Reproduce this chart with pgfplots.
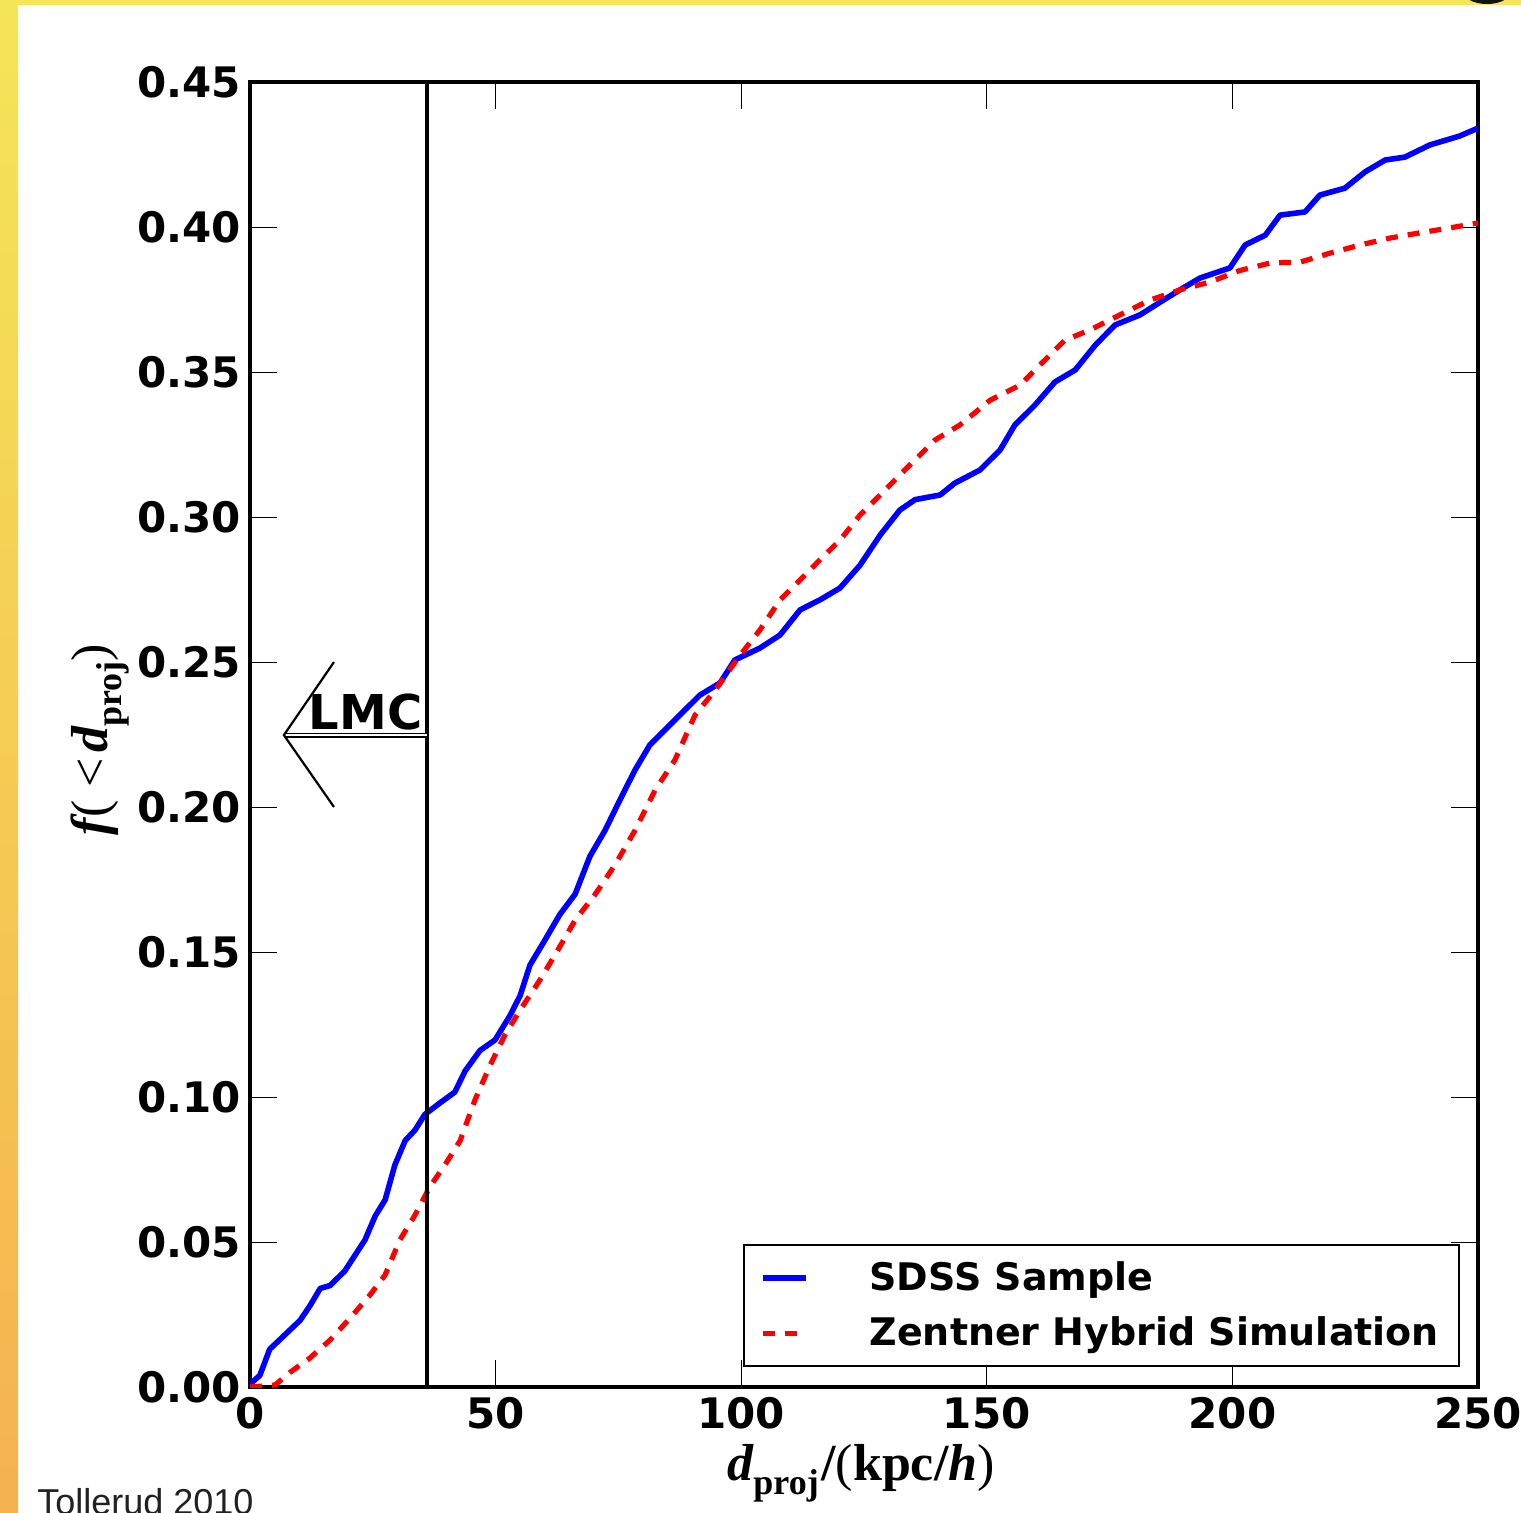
\documentclass[border=0pt]{standalone}
\usepackage{pgfplots}
\pgfplotsset{compat=1.18}
\usepackage{fontspec}
\setmainfont{DejaVu Sans}
\newfontfamily\serifbf{Liberation Serif}
\newfontfamily\arialf{Liberation Sans}
\definecolor{slideyellow}{RGB}{245,229,88}
\definecolor{slideorange}{RGB}{245,178,80}

\pgfplotstableread{
x y
0 0.001
2 0.004
4 0.013
7.1 0.018
10.2 0.023
12.2 0.028
14.3 0.034
16.3 0.035
19.3 0.040
21.4 0.0455
23.4 0.0507
25.5 0.059
27.5 0.0645
29.5 0.0766
31.6 0.085
33.6 0.0886
35.6 0.094
38.7 0.098
41.7 0.1017
43.8 0.109
46.8 0.116
49.9 0.1197
52.9 0.128
55 0.135
57 0.1455
60 0.154
63.1 0.163
66.2 0.170
69.2 0.183
72.3 0.192
75.3 0.2024
78.4 0.2128
81.4 0.2214
84.5 0.2266
87.5 0.2317
91.6 0.2386
95.7 0.2428
98.7 0.2507
103.8 0.2548
107.9 0.2593
112 0.268
116 0.2714
120.1 0.2755
124.2 0.2834
128.3 0.2938
132.3 0.3024
135.4 0.306
140.5 0.3076
143.5 0.3117
148.6 0.3162
152.7 0.3231
155.7 0.3317
159.8 0.3386
163.9 0.3466
168 0.3507
172.1 0.3593
176.1 0.3662
181.2 0.3697
185.3 0.3741
189.3 0.3783
193.4 0.3824
199.5 0.3859
202.6 0.3938
206.7 0.3972
209.7 0.4041
214.8 0.4052
217.8 0.4110
222.9 0.4134
227 0.419
231.1 0.4231
235.1 0.4241
240.2 0.4283
246.3 0.4314
250 0.4341
}\sdss

\pgfplotstableread{
x y
0 0
5.1 0.0007
8.1 0.005
12.2 0.010
16.3 0.0162
20.4 0.0238
24.4 0.0317
27.5 0.0386
30.5 0.0507
33.6 0.0593
36.6 0.069
39.7 0.0766
42.8 0.085
45.8 0.099
48.9 0.111
51.9 0.1214
55 0.130
59 0.1403
62.1 0.149
66.2 0.161
70.2 0.1697
74.3 0.180
78.4 0.192
82.5 0.2059
86.5 0.2162
90.6 0.2317
94.7 0.2403
99.8 0.2524
103.8 0.261
107.9 0.2714
112 0.2783
116 0.2852
120.1 0.292
124.2 0.3007
128.3 0.3076
133.3 0.3162
139.5 0.3266
144.5 0.3317
150.7 0.3403
156.8 0.3455
160.8 0.3524
165.9 0.361
171 0.3645
177.1 0.3697
183.2 0.3748
189.3 0.3783
195.4 0.381
201.5 0.385
207.7 0.3876
213.8 0.3879
219.9 0.391
226 0.3938
232.1 0.3962
238.2 0.398
244.3 0.3997
250 0.4014
}\zentner

\begin{document}
\begin{tikzpicture}
% slide background
\path[use as bounding box, fill=white] (0,0) rectangle (760.5pt,-756pt);
\fill[slideyellow] (0,0) rectangle (760.5pt,-2.5pt);
\shade[top color=slideyellow, bottom color=slideorange] (0,0) rectangle (9pt,-756pt);
\fill[black!92] (743.5pt,5pt) ellipse (12.5pt and 7pt);
\node[anchor=base west, inner sep=0pt, font=\arialf\fontsize{18}{18}\selectfont, text=black!87]
  at (18.5pt,-757pt) {Tollerud 2010};

\begin{axis}[
    at={(125pt,-693.5pt)}, anchor=south west,
    width=614pt, height=652.5pt, scale only axis,
    xmin=0, xmax=250, ymin=0, ymax=0.45,
    xtick={0,50,100,150,200,250},
    ytick={0,0.05,0.10,0.15,0.20,0.25,0.30,0.35,0.40,0.45},
    tick align=inside,
    major tick length=13.5pt,
    tick style={black, line width=0.5pt},
    axis line style={line width=2.3pt},
    /pgf/number format/assume math mode=true,
    ticklabel style={font=\fontsize{21}{21}\selectfont\bfseries},
    yticklabel style={/pgf/number format/.cd, fixed, fixed zerofill, precision=2,
        /tikz/.cd, inner sep=0pt, xshift=-4.3pt},
    xticklabel style={inner sep=0pt, yshift=-5pt},
    xlabel={{\itshape d}\raisebox{-0.28em}{\fontsize{18}{18}\selectfont proj}\hspace{0.05em}/{\mdseries(}kpc/{\itshape h}{\mdseries)}},
    ylabel={{\itshape f}{\mdseries(\hspace{0.25em}<}\hspace{0.1em}{\itshape d}\raisebox{-0.28em}{\fontsize{18}{18}\selectfont proj}{\mdseries)}},
    xlabel style={at={(axis description cs:0.4976,-0.0713)}, anchor=base, inner sep=0pt,
        font=\serifbf\bfseries\fontsize{26}{26}\selectfont},
    ylabel style={at={(axis description cs:-0.1164,0.496)}, anchor=base, inner sep=0pt,
        font=\serifbf\bfseries\fontsize{26}{26}\selectfont},
    legend style={at={(rel axis cs:1,0)}, anchor=south east, xshift=-9pt, yshift=10pt,
        draw=black, line width=1pt, font=\fontsize{19}{19}\selectfont\bfseries,
        inner xsep=8pt, inner ysep=6.7pt, row sep=8pt,
        cells={text height=14pt, text depth=4.7pt, inner ysep=0pt}},
    legend cell align=left,
    legend image code/.code={
        \draw[#1] (0pt,0pt) -- (21.5pt,0pt);
        \path[draw=none] (0pt,0pt) -- (51.5pt,0pt);
    },
]
\addplot[blue, line width=2.8pt, line join=round] table[x=x, y=y] {\sdss};
\addlegendentry{SDSS Sample}
\addplot[red, line width=2.6pt, dash pattern=on 6pt off 5pt] table[x=x, y=y] {\zentner};
\addlegendentry{Zentner Hybrid Simulation}

% LMC distance
\draw[line width=2.3pt] (axis cs:36,0) -- (axis cs:36,0.45);
\draw[line width=0.8pt, double, double distance=0.9pt] (axis cs:36,0.2248) -- (axis cs:6.9,0.2248);
\draw[line width=1.1pt] (axis cs:17.1,0.25) -- (axis cs:6.9,0.2248) -- (axis cs:17.1,0.2);
\node[anchor=base east, inner sep=0pt, font=\fontsize{24}{24}\selectfont\bfseries]
    at (axis cs:35.2,0.2266) {LMC};
\end{axis}
\end{tikzpicture}
\end{document}
